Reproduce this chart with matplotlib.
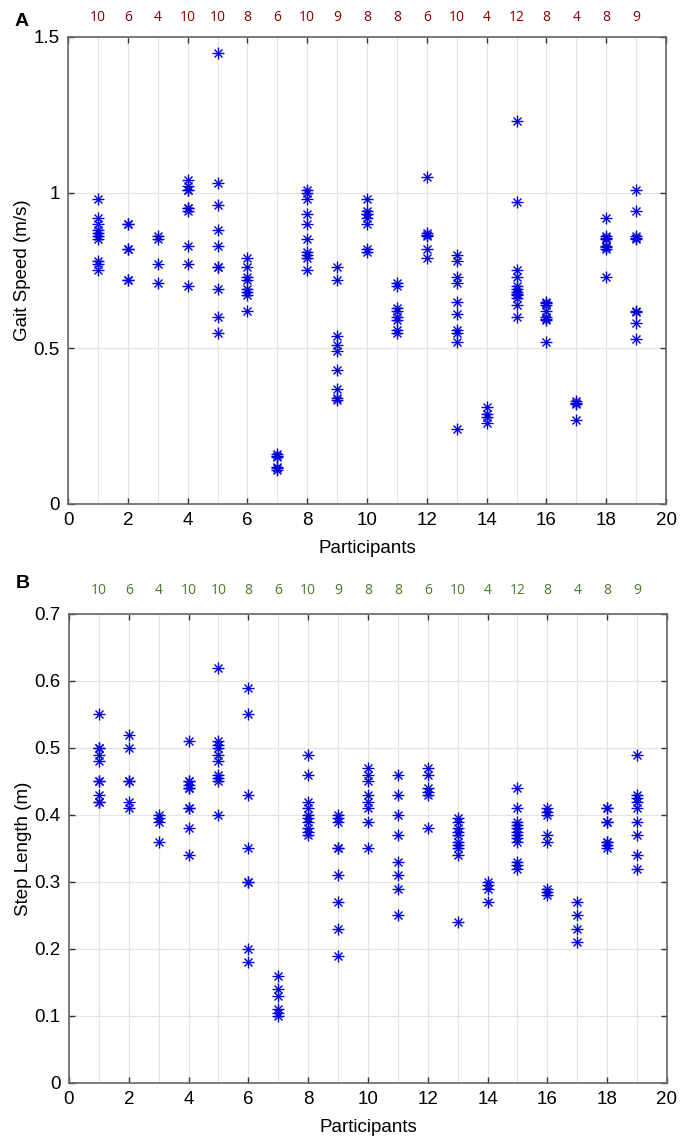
import numpy as np
import matplotlib
matplotlib.use("Agg")
from matplotlib import pyplot as plt
from matplotlib.ticker import MultipleLocator, FormatStrFormatter

plt.rcParams['font.family'] = ['Liberation Sans', 'DejaVu Sans']

participants = list(range(1, 20))
counts = [10, 6, 4, 10, 10, 8, 6, 10, 9, 8, 8, 6, 10, 4, 12, 8, 4, 8, 9]

# gait speed (m/s), one list per participant
speed = [
    [0.98, 0.92, 0.90, 0.88, 0.87, 0.86, 0.85, 0.78, 0.77, 0.75],
    [0.90, 0.90, 0.82, 0.82, 0.72, 0.72],
    [0.86, 0.85, 0.77, 0.71],
    [1.04, 1.02, 1.01, 1.01, 0.95, 0.95, 0.94, 0.83, 0.77, 0.70],
    [1.45, 1.03, 0.96, 0.88, 0.83, 0.76, 0.76, 0.69, 0.60, 0.55],
    [0.79, 0.76, 0.73, 0.72, 0.69, 0.68, 0.67, 0.62],
    [0.16, 0.155, 0.15, 0.12, 0.115, 0.11],
    [1.01, 1.00, 0.98, 0.93, 0.90, 0.85, 0.81, 0.80, 0.79, 0.75],
    [0.76, 0.72, 0.54, 0.51, 0.49, 0.43, 0.37, 0.34, 0.335],
    [0.98, 0.94, 0.93, 0.93, 0.92, 0.90, 0.82, 0.81],
    [0.71, 0.70, 0.63, 0.62, 0.60, 0.59, 0.56, 0.55],
    [1.05, 0.87, 0.865, 0.86, 0.82, 0.79],
    [0.80, 0.78, 0.73, 0.71, 0.65, 0.61, 0.56, 0.55, 0.52, 0.24],
    [0.31, 0.29, 0.28, 0.26],
    [1.23, 0.97, 0.75, 0.73, 0.70, 0.69, 0.68, 0.675, 0.67, 0.66, 0.64, 0.60],
    [0.65, 0.645, 0.64, 0.62, 0.60, 0.595, 0.59, 0.52],
    [0.33, 0.325, 0.32, 0.27],
    [0.92, 0.86, 0.855, 0.85, 0.83, 0.825, 0.82, 0.73],
    [1.01, 0.94, 0.86, 0.855, 0.85, 0.62, 0.615, 0.58, 0.53],
]

# step length (m)
step = [
    [0.55, 0.50, 0.50, 0.49, 0.48, 0.45, 0.45, 0.43, 0.42, 0.42],
    [0.52, 0.50, 0.45, 0.45, 0.42, 0.41],
    [0.40, 0.395, 0.39, 0.36],
    [0.51, 0.45, 0.45, 0.445, 0.44, 0.44, 0.41, 0.41, 0.38, 0.34],
    [0.62, 0.51, 0.505, 0.50, 0.49, 0.48, 0.46, 0.455, 0.45, 0.40],
    [0.59, 0.55, 0.43, 0.35, 0.30, 0.30, 0.20, 0.18],
    [0.16, 0.14, 0.13, 0.11, 0.105, 0.10],
    [0.49, 0.46, 0.42, 0.41, 0.40, 0.395, 0.39, 0.38, 0.375, 0.37],
    [0.40, 0.395, 0.39, 0.35, 0.35, 0.31, 0.27, 0.23, 0.19],
    [0.47, 0.46, 0.45, 0.43, 0.42, 0.41, 0.39, 0.35],
    [0.46, 0.43, 0.40, 0.37, 0.33, 0.31, 0.29, 0.25],
    [0.47, 0.46, 0.44, 0.435, 0.43, 0.38],
    [0.395, 0.39, 0.38, 0.375, 0.37, 0.36, 0.355, 0.35, 0.34, 0.24],
    [0.30, 0.295, 0.29, 0.27],
    [0.44, 0.41, 0.39, 0.385, 0.38, 0.375, 0.37, 0.365, 0.36, 0.33, 0.325, 0.32],
    [0.41, 0.405, 0.40, 0.37, 0.36, 0.29, 0.285, 0.28],
    [0.27, 0.25, 0.23, 0.21],
    [0.41, 0.41, 0.39, 0.39, 0.36, 0.36, 0.355, 0.35],
    [0.49, 0.43, 0.425, 0.42, 0.41, 0.39, 0.37, 0.34, 0.32],
]

fig = plt.figure(figsize=(6.85, 11.47), dpi=100)
axA = fig.add_axes([0.0993, 0.5606, 0.873, 0.4072])
axB = fig.add_axes([0.1007, 0.0558, 0.873, 0.4089])


def draw_panel(ax, values, ylim, ystep, ylabel, count_color, letter, count_off, letter_y):
    for p, vals in zip(participants, values):
        xs = [p] * len(vals)
        ax.plot(xs, vals, ls='none', marker='+', ms=8, mew=1.0, color='#0000dd')
        ax.plot(xs, vals, ls='none', marker='x', ms=6, mew=1.0, color='#0000dd')
    ax.set_xlim(0, 20)
    ax.set_ylim(*ylim)
    ax.xaxis.set_major_locator(MultipleLocator(2))
    ax.xaxis.set_minor_locator(MultipleLocator(1))
    ax.yaxis.set_major_locator(MultipleLocator(ystep))
    ax.yaxis.set_major_formatter(FormatStrFormatter('%g'))
    ax.grid(which='both', axis='x', color='#e3e3e3', lw=0.9)
    ax.grid(which='major', axis='y', color='#e3e3e3', lw=0.9)
    ax.set_axisbelow(True)
    ax.tick_params(which='major', direction='in', top=True, right=True,
                   length=4, width=1, color='#333333', labelsize=13.5, pad=6)
    ax.tick_params(which='minor', length=0)
    for s in ax.spines.values():
        s.set_color('#666666')
        s.set_linewidth(1.2)
    ax.set_xlabel('Participants', fontsize=13.5, labelpad=8)
    ax.set_ylabel(ylabel, fontsize=13.5, labelpad=2)
    for p, c in zip(participants, counts):
        ax.annotate(str(c), xy=(p, 1), xycoords=('data', 'axes fraction'),
                    xytext=(0, count_off), textcoords='offset points', ha='center',
                    va='center', fontsize=10, color=count_color, family='Open Sans')
    ax.text(-0.077, letter_y, letter, transform=ax.transAxes, fontsize=14,
            fontweight='bold', ha='center', va='center')


draw_panel(axA, speed, (0, 1.5), 0.5, 'Gait Speed (m/s)', '#8b0000', 'A', 14, 1.032)
draw_panel(axB, step, (0, 0.7), 0.1, 'Step Length (m)', '#4a7a2a', 'B', 17, 1.066)

fig.savefig('out.png', dpi=100)
